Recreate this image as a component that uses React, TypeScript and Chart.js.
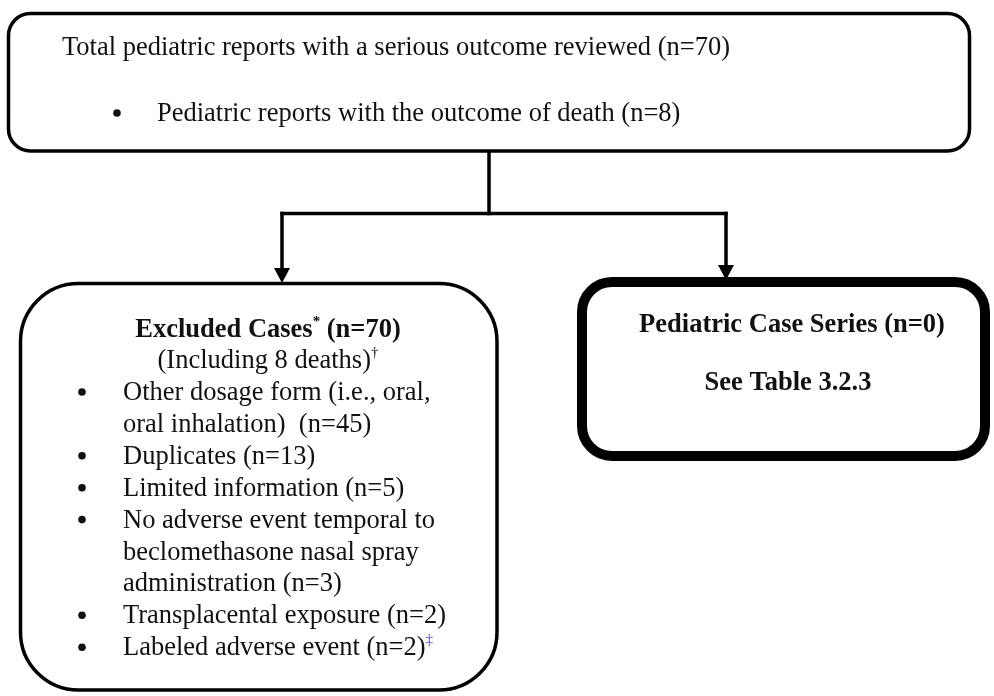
import React, { useEffect, useRef } from "react";
import { Chart, registerables } from "chart.js";

Chart.register(...registerables);

// ---------- data ----------
const totalReviewedLabel = "Total pediatric reports with a serious outcome reviewed";
const totalReviewed = 70;
const deathLabel = "Pediatric reports with the outcome of death";
const deathCount = 8;

const excludedLabel = "Excluded Cases";
const excludedCount = 70;
const excludedDeaths = 8;
const exclusionReasonLines: string[][] = [
  ["Other dosage form (i.e., oral,", "oral inhalation)  "],
  ["Duplicates "],
  ["Limited information "],
  ["No adverse event temporal to", "beclomethasone nasal spray", "administration "],
  ["Transplacental exposure "],
  ["Labeled adverse event "],
];
const exclusionCounts = [45, 13, 5, 3, 2, 2];
const exclusionMarks = ["", "", "", "", "", "\u2021"];

const caseSeriesLabel = "Pediatric Case Series";
const caseSeriesCount = 0;
const caseSeriesRef = "See Table 3.2.3";

// ---------- layout (pixel-space data units) ----------
const W = 994;
const H = 696;
const FONT = "'Liberation Serif', 'Times New Roman', serif";
const INK = "#111111";
const FS = 26.5;

const LAYOUT = {
  top: { x1: 8.5, y1: 13.5, x2: 969.5, y2: 151, r: 22, lw: 3.5 },
  left: { x1: 20.5, y1: 283.5, x2: 497, y2: 690, r: 58, lw: 3.5 },
  right: { x1: 582, y1: 282, x2: 985, y2: 456, r: 30, lw: 10 },
  trunkX: 489,
  splitY: 213.5,
  dropLeftX: 282,
  dropRightX: 726,
  tipLeftY: 283,
  tipRightY: 280,
  arrowW: 16,
  arrowH: 15,
  lineW: 3.5,
  topLine1: { x: 62, y: 55 },
  topBullet: { x: 117, y: 113 },
  topLine2: { x: 157, y: 121 },
  leftTitle: { x: 268, y: 337 },
  leftSub: { x: 268, y: 368 },
  leftBulletX: 82,
  leftTextX: 123,
  leftFirstY: 400,
  leftLineH: 31.9,
  rightTitle: { x: 792, y: 332 },
  rightRef: { x: 788, y: 390 },
};

type Run = { t: string; bold?: boolean; sup?: boolean; color?: string };

function fontFor(r: Run, size: number) {
  const s = r.sup ? Math.round(size * 0.55) : size;
  return `${r.bold ? "bold " : ""}${s}px ${FONT}`;
}

function drawRuns(
  ctx: CanvasRenderingContext2D,
  runs: Run[],
  x: number,
  y: number,
  align: "left" | "center",
  size: number
) {
  ctx.textAlign = "left";
  ctx.textBaseline = "alphabetic";
  const widths = runs.map((r) => {
    ctx.font = fontFor(r, size);
    return ctx.measureText(r.t).width;
  });
  const total = widths.reduce((a, b) => a + b, 0);
  let cx = align === "center" ? x - total / 2 : x;
  runs.forEach((r, i) => {
    ctx.font = fontFor(r, size);
    ctx.fillStyle = r.color || INK;
    ctx.fillText(r.t, cx, r.sup ? y - size * 0.42 : y);
    cx += widths[i];
  });
}

function roundBox(
  ctx: CanvasRenderingContext2D,
  x1: number,
  y1: number,
  x2: number,
  y2: number,
  r: number
) {
  ctx.beginPath();
  ctx.moveTo(x1 + r, y1);
  ctx.lineTo(x2 - r, y1);
  ctx.arcTo(x2, y1, x2, y1 + r, r);
  ctx.lineTo(x2, y2 - r);
  ctx.arcTo(x2, y2, x2 - r, y2, r);
  ctx.lineTo(x1 + r, y2);
  ctx.arcTo(x1, y2, x1, y2 - r, r);
  ctx.lineTo(x1, y1 + r);
  ctx.arcTo(x1, y1, x1 + r, y1, r);
  ctx.closePath();
}

const flowPlugin = {
  id: "flowchart",
  afterDatasetsDraw(chart: any) {
    const ctx: CanvasRenderingContext2D = chart.ctx;
    const xs = chart.scales.x;
    const ys = chart.scales.y;
    const px = (v: number) => xs.getPixelForValue(v);
    const py = (v: number) => ys.getPixelForValue(v);
    const L = LAYOUT;
    ctx.save();

    // boxes
    const box = (b: any) => {
      roundBox(ctx, px(b.x1), py(b.y1), px(b.x2), py(b.y2), b.r);
      ctx.fillStyle = "#ffffff";
      ctx.fill();
      ctx.lineWidth = b.lw;
      ctx.strokeStyle = "#000000";
      ctx.stroke();
    };
    box(L.top);
    box(L.left);
    box(L.right);

    // arrowheads
    const arrow = (x: number, tip: number) => {
      ctx.beginPath();
      ctx.moveTo(px(x), py(tip));
      ctx.lineTo(px(x - L.arrowW / 2), py(tip - L.arrowH));
      ctx.lineTo(px(x + L.arrowW / 2), py(tip - L.arrowH));
      ctx.closePath();
      ctx.fillStyle = "#000000";
      ctx.fill();
    };
    arrow(L.dropLeftX, L.tipLeftY);
    arrow(L.dropRightX, L.tipRightY);

    const bullet = (x: number, y: number) => {
      ctx.beginPath();
      ctx.arc(px(x), py(y), 3.8, 0, Math.PI * 2);
      ctx.fillStyle = INK;
      ctx.fill();
    };

    // top box text
    drawRuns(ctx, [{ t: `${totalReviewedLabel} (n=${totalReviewed})` }], px(L.topLine1.x), py(L.topLine1.y), "left", FS);
    bullet(L.topBullet.x, L.topBullet.y);
    drawRuns(ctx, [{ t: `${deathLabel} (n=${deathCount})` }], px(L.topLine2.x), py(L.topLine2.y), "left", FS);

    // left box text
    drawRuns(
      ctx,
      [
        { t: excludedLabel, bold: true },
        { t: "*", bold: true, sup: true },
        { t: ` (n=${excludedCount})`, bold: true },
      ],
      px(L.leftTitle.x),
      py(L.leftTitle.y),
      "center",
      FS
    );
    drawRuns(
      ctx,
      [{ t: `(Including ${excludedDeaths} deaths)` }, { t: "\u2020", sup: true }],
      px(L.leftSub.x),
      py(L.leftSub.y),
      "center",
      FS
    );
    let line = 0;
    exclusionReasonLines.forEach((lines, i) => {
      lines.forEach((txt, j) => {
        const y = L.leftFirstY + line * L.leftLineH;
        if (j === 0) bullet(L.leftBulletX, y - 8);
        const runs: Run[] = [{ t: txt }];
        if (j === lines.length - 1) {
          runs.push({ t: `(n=${exclusionCounts[i]})` });
          if (exclusionMarks[i]) runs.push({ t: exclusionMarks[i], sup: true, color: "#4a3fa8" });
        }
        drawRuns(ctx, runs, px(L.leftTextX), py(y), "left", FS);
        line++;
      });
    });

    // right box text
    drawRuns(ctx, [{ t: `${caseSeriesLabel} (n=${caseSeriesCount})`, bold: true }], px(L.rightTitle.x), py(L.rightTitle.y), "center", FS);
    drawRuns(ctx, [{ t: caseSeriesRef, bold: true }], px(L.rightRef.x), py(L.rightRef.y), "center", FS);

    ctx.restore();
  },
};

const seg = (pts: { x: number; y: number }[]) => ({
  type: "scatter" as const,
  data: pts,
  showLine: true,
  borderColor: "#000000",
  borderWidth: LAYOUT.lineW,
  pointRadius: 0,
  borderCapStyle: "square" as const,
});

export default function App() {
  const ref = useRef<HTMLCanvasElement | null>(null);
  useEffect(() => {
    if (!ref.current) return;
    const L = LAYOUT;
    const chart = new Chart(ref.current, {
      type: "scatter",
      data: {
        datasets: [
          seg([{ x: L.trunkX, y: L.top.y2 }, { x: L.trunkX, y: L.splitY }]),
          seg([{ x: L.dropLeftX, y: L.splitY }, { x: L.dropRightX, y: L.splitY }]),
          seg([{ x: L.dropLeftX, y: L.splitY }, { x: L.dropLeftX, y: L.tipLeftY - L.arrowH + 1 }]),
          seg([{ x: L.dropRightX, y: L.splitY }, { x: L.dropRightX, y: L.tipRightY - L.arrowH + 1 }]),
        ] as any,
      },
      options: {
        responsive: false,
        devicePixelRatio: 1,
        animation: false,
        layout: { padding: 0 },
        plugins: { legend: { display: false }, tooltip: { enabled: false } },
        scales: {
          x: { type: "linear", min: 0, max: W, display: false },
          y: { type: "linear", min: 0, max: H, reverse: true, display: false },
        },
      },
      plugins: [flowPlugin],
    });
    return () => chart.destroy();
  }, []);
  return (
    <div style={{ position: "fixed", left: 0, top: 0, width: W, height: H, background: "#ffffff" }}>
      <canvas ref={ref} width={W} height={H} style={{ display: "block", width: W, height: H }} />
    </div>
  );
}
